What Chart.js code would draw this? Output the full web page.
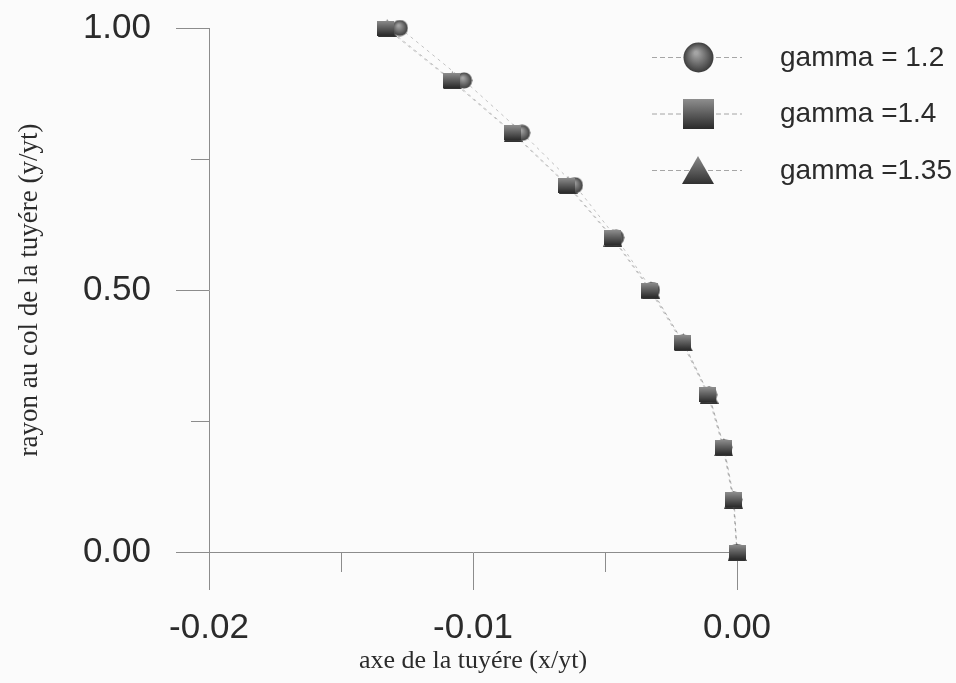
<!DOCTYPE html>
<html>
<head>
<meta charset="utf-8">
<title>tuyere</title>
<script src="https://cdn.jsdelivr.net/npm/chart.js@4.4.0/dist/chart.umd.min.js"></script>
<style>
  body { margin: 0; background: #fbfbfb; }
  canvas { display: block; }
</style>
</head>
<body>
<canvas id="myChart" width="956" height="683"></canvas>
<script>
// y/yt, same for the three curves
var yValues = [1.0, 0.9, 0.8, 0.7, 0.6, 0.5, 0.4, 0.3, 0.2, 0.1, 0.0];
// x/yt
var xGamma12  = [-0.01277, -0.01034, -0.00814, -0.00614, -0.00458, -0.00322, -0.00205, -0.00106, -0.00049, -0.00011, 0.0];
var xGamma14  = [-0.01330, -0.01083, -0.00852, -0.00644, -0.00473, -0.00330, -0.00208, -0.00110, -0.00053, -0.00015, 0.0];
var xGamma135 = [-0.01325, -0.01078, -0.00848, -0.00640, -0.00470, -0.00326, -0.00203, -0.00106, -0.00050, -0.00013, 0.0];
var seriesLabels = ['gamma = 1.2', 'gamma =1.4', 'gamma =1.35'];
var xLabelValues = [-0.02, -0.01, 0.0];
var yLabelValues = [0.0, 0.5, 1.0];

var textColor = '#2b2b2b';
var axisColor = '#8c8c8c';
var sans = '"Liberation Sans", Arial, sans-serif';
var serif = '"Liberation Serif", "Times New Roman", serif';

Chart.defaults.font.family = sans;

// shaded markers like the scanned plot
function makeMarker(shape, w, h) {
  var c = document.createElement('canvas');
  c.width = w; c.height = h;
  var g = c.getContext('2d');
  var grad;
  if (shape === 'circle') {
    grad = g.createRadialGradient(w * 0.42, h * 0.35, w * 0.05, w / 2, h / 2, w / 2);
    grad.addColorStop(0, '#a4a4a4');
    grad.addColorStop(1, '#383838');
    g.fillStyle = grad;
    g.beginPath(); g.arc(w / 2, h / 2, w / 2 - 0.5, 0, Math.PI * 2); g.fill();
  } else if (shape === 'rect') {
    grad = g.createLinearGradient(0, 0, 0, h);
    grad.addColorStop(0, '#8e8e8e');
    grad.addColorStop(1, '#2a2a2a');
    g.fillStyle = grad;
    g.fillRect(0, 0, w, h);
  } else {
    grad = g.createLinearGradient(0, 0, 0, h);
    grad.addColorStop(0, '#8a8a8a');
    grad.addColorStop(1, '#303030');
    g.fillStyle = grad;
    g.beginPath(); g.moveTo(w / 2, 0); g.lineTo(w, h); g.lineTo(0, h); g.closePath(); g.fill();
  }
  return c;
}

var pointImgs = [makeMarker('circle', 17, 17), makeMarker('rect', 17, 15), makeMarker('triangle', 19, 18)];
var legendImgs = [makeMarker('circle', 31, 31), makeMarker('rect', 31, 30), makeMarker('triangle', 32, 28)];

function toPoints(xs) {
  var pts = [];
  for (var i = 0; i < xs.length; i++) {
    pts.push({x: xs[i], y: yValues[i]});
  }
  return pts;
}

function isLabel(v, list) {
  for (var i = 0; i < list.length; i++) {
    if (Math.abs(list[i] - v) < 1e-9) return true;
  }
  return false;
}

function fmt(v) {
  var s = (Math.round(v * 100) / 100).toFixed(2);
  return s === '-0.00' ? '0.00' : s;
}

// short ticks between the labelled ones
var minorTicks = {
  id: 'minorTicks',
  afterDraw: function(chart) {
    var ctx = chart.ctx, area = chart.chartArea;
    var xs = chart.scales.x, ys = chart.scales.y;
    ctx.save();
    ctx.strokeStyle = axisColor;
    ctx.lineWidth = 1;
    ctx.beginPath();
    ys.ticks.forEach(function(t) {
      if (!isLabel(t.value, yLabelValues)) {
        var p = Math.round(ys.getPixelForValue(t.value)) + 0.5;
        ctx.moveTo(area.left - 18, p); ctx.lineTo(area.left, p);
      }
    });
    xs.ticks.forEach(function(t) {
      if (!isLabel(t.value, xLabelValues)) {
        var p = Math.round(xs.getPixelForValue(t.value)) + 0.5;
        ctx.moveTo(p, area.bottom); ctx.lineTo(p, area.bottom + 20);
      }
    });
    ctx.stroke();
    ctx.restore();
  }
};

// legend on the right: line + marker + text
var sideLegend = {
  id: 'sideLegend',
  afterDraw: function(chart) {
    var ctx = chart.ctx;
    for (var i = 0; i < seriesLabels.length; i++) {
      var y = 57 + i * 56.5;
      ctx.save();
      ctx.strokeStyle = 'rgba(130,130,130,0.7)';
      ctx.lineWidth = 1;
      ctx.setLineDash([5, 3]);
      ctx.beginPath(); ctx.moveTo(652, y + 0.5); ctx.lineTo(742, y + 0.5); ctx.stroke();
      ctx.setLineDash([]);
      var img = legendImgs[i];
      ctx.drawImage(img, Math.round(698 - img.width / 2), Math.round(y - img.height / 2));
      ctx.fillStyle = textColor;
      ctx.font = '28px ' + sans;
      ctx.textBaseline = 'middle';
      ctx.fillText(seriesLabels[i], 780, y + 1);
      ctx.restore();
    }
  }
};

function dataset(i, xs, order) {
  return {
    label: seriesLabels[i],
    data: toPoints(xs),
    order: order,
    borderColor: 'rgba(90,90,90,0.35)',
    borderWidth: 1,
    borderDash: [3, 4],
    pointStyle: pointImgs[i],
    pointRadius: 8,
    pointHoverRadius: 8,
    fill: false,
    tension: 0,
    clip: false
  };
}

new Chart(document.getElementById('myChart'), {
  type: 'line',
  data: {
    datasets: [
      dataset(0, xGamma12, 1),
      dataset(1, xGamma14, 0),
      dataset(2, xGamma135, 2)
    ]
  },
  plugins: [minorTicks, sideLegend],
  options: {
    responsive: false,
    animation: false,
    layout: { padding: { left: 0, top: 28, right: 219, bottom: 0 } },
    plugins: {
      legend: { display: false },
      tooltip: { enabled: false }
    },
    scales: {
      x: {
        type: 'linear',
        min: -0.02,
        max: 0,
        ticks: {
          stepSize: 0.005,
          padding: 17,
          color: textColor,
          font: { size: 35 },
          maxRotation: 0,
          autoSkip: false,
          callback: function(v) { return isLabel(v, xLabelValues) ? fmt(v) : ''; }
        },
        grid: {
          drawOnChartArea: false,
          tickLength: 38,
          tickColor: function(c) { return c.tick && isLabel(c.tick.value, xLabelValues) ? axisColor : 'rgba(0,0,0,0)'; }
        },
        border: { color: axisColor, width: 1 },
        title: {
          display: true,
          text: 'axe de la tuyére (x/yt)',
          color: textColor,
          font: { family: serif, size: 26 },
          padding: { top: 0, bottom: 6 }
        },
        afterFit: function(s) { s.height = 131; s.paddingLeft = 0; s.paddingRight = 0; }
      },
      y: {
        type: 'linear',
        min: 0,
        max: 1,
        ticks: {
          stepSize: 0.25,
          padding: 25,
          color: textColor,
          font: { size: 35 },
          autoSkip: false,
          callback: function(v) { return isLabel(v, yLabelValues) ? fmt(v) : ''; }
        },
        grid: {
          drawOnChartArea: false,
          tickLength: 33,
          tickColor: function(c) { return c.tick && isLabel(c.tick.value, yLabelValues) ? axisColor : 'rgba(0,0,0,0)'; }
        },
        border: { color: axisColor, width: 1 },
        title: {
          display: true,
          text: 'rayon au col de la tuyére (y/yt)',
          color: textColor,
          font: { family: serif, size: 27 },
          padding: { top: 14, bottom: 0 }
        },
        afterFit: function(s) { s.width = 209; s.paddingTop = 0; s.paddingBottom = 0; }
      }
    }
  }
});
</script>
</body>
</html>
